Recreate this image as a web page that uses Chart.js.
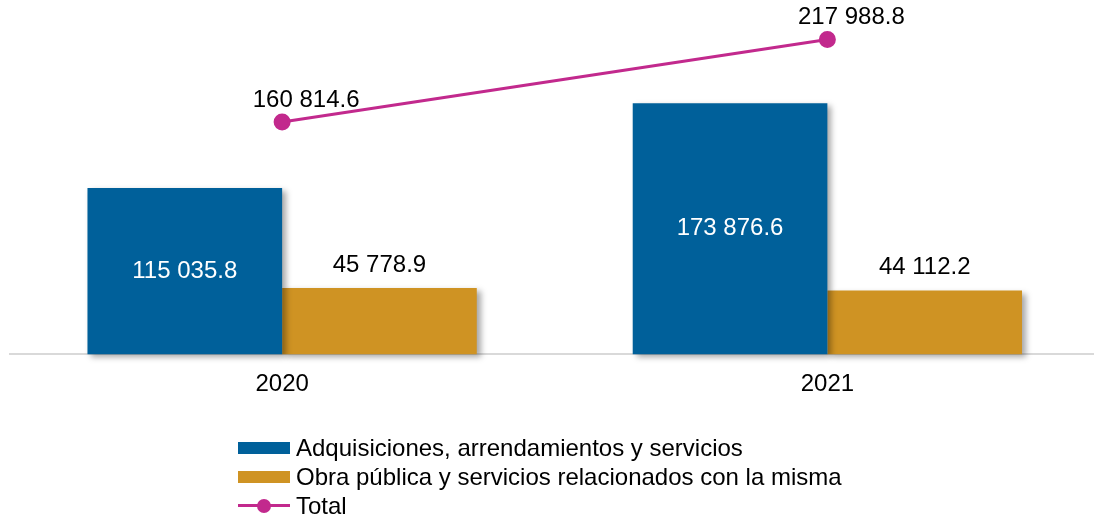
<!DOCTYPE html>
<html>
<head>
<meta charset="utf-8">
<script src="https://cdn.jsdelivr.net/npm/chart.js@4.4.0/dist/chart.umd.min.js"></script>
<style>
  body { margin: 0; background: #fff; font-family: "Liberation Sans", Arial, sans-serif; }
  #wrap { position: relative; width: 1094px; height: 519px; overflow: hidden; }
  #chart { position: absolute; left: 0; top: 0; }
  #legend { position: absolute; left: 238px; top: 433px; }
  .item { display: flex; align-items: center; height: 29px; font-size: 24px; color: #000; white-space: nowrap; }
  .sw { width: 52px; height: 12px; margin-right: 6px; flex: none; }
  .ln { position: relative; width: 52px; height: 14px; margin-right: 6px; flex: none; }
  .ln .bar { position: absolute; left: 0; right: 0; top: 5.5px; height: 3px; }
  .ln .dot { position: absolute; left: 19px; top: 0; width: 14px; height: 14px; border-radius: 50%; }
</style>
</head>
<body>
<div id="wrap">
  <canvas id="chart" width="1100" height="519"></canvas>
  <div id="legend"></div>
</div>
<script>
const years = ['2020', '2021'];
const adquisiciones = [115035.8, 173876.6];
const obraPublica = [45778.9, 44112.2];
const total = [160814.6, 217988.8];

const BLUE = '#00609A';
const ORANGE = '#CF9323';
const MAGENTA = '#C2298D';
const FONT = '"Liberation Sans", Arial, sans-serif';

// 115035.8 -> "115 035.8"
function fmt(v) {
  const parts = v.toFixed(1).split('.');
  return parts[0].replace(/\B(?=(\d{3})+(?!\d))/g, ' ') + '.' + parts[1];
}

// soft drop shadow behind the bars
const barShadow = {
  id: 'barShadow',
  beforeDatasetDraw(chart, args) {
    if (args.meta.type !== 'bar') return;
    const ctx = chart.ctx;
    ctx.save();
    ctx.shadowColor = 'rgba(0,0,0,0.35)';
    ctx.shadowBlur = 6;
    ctx.shadowOffsetX = 4;
    ctx.shadowOffsetY = 3;
  },
  afterDatasetDraw(chart, args) {
    if (args.meta.type !== 'bar') return;
    chart.ctx.restore();
  }
};

// value labels
const valueLabels = {
  id: 'valueLabels',
  afterDatasetsDraw(chart) {
    const ctx = chart.ctx;
    ctx.save();
    ctx.font = '24px ' + FONT;
    ctx.textAlign = 'center';
    ctx.textBaseline = 'middle';
    chart.data.datasets.forEach((ds, i) => {
      const meta = chart.getDatasetMeta(i);
      meta.data.forEach((el, j) => {
        const txt = fmt(ds.data[j]);
        if (ds.labelPos === 'center') {
          ctx.fillStyle = '#fff';
          ctx.fillText(txt, el.x, (el.y + el.base) / 2);
        } else if (ds.labelPos === 'top') {
          ctx.fillStyle = '#000';
          ctx.fillText(txt, el.x, el.y - 23);
        } else {
          ctx.fillStyle = '#000';
          ctx.fillText(txt, el.x + 24, el.y - 22);
        }
      });
    });
    ctx.restore();
  }
};

const chart = new Chart(document.getElementById('chart'), {
  type: 'bar',
  data: {
    labels: years,
    datasets: [
      {
        type: 'line',
        label: 'Total',
        data: total,
        borderColor: MAGENTA,
        backgroundColor: MAGENTA,
        borderWidth: 3,
        pointRadius: 7,
        pointHoverRadius: 7,
        labelPos: 'line',
        order: 0
      },
      {
        label: 'Adquisiciones, arrendamientos y servicios',
        data: adquisiciones,
        backgroundColor: BLUE,
        labelPos: 'center',
        clip: false,
        order: 1
      },
      {
        label: 'Obra pública y servicios relacionados con la misma',
        data: obraPublica,
        backgroundColor: ORANGE,
        labelPos: 'top',
        clip: false,
        order: 1
      }
    ]
  },
  options: {
    responsive: false,
    animation: false,
    layout: { autoPadding: false, padding: { left: 9.5, right: 0, top: 0, bottom: 112 } },
    datasets: {
      bar: { categoryPercentage: 0.714, barPercentage: 1 }
    },
    scales: {
      x: {
        grid: { display: false },
        border: { display: true, color: '#D9D9D9', width: 2 },
        ticks: { color: '#000', font: { family: FONT, size: 24 }, padding: 8 }
      },
      y: {
        display: false,
        min: 0,
        max: 245300
      }
    },
    plugins: {
      legend: { display: false },
      tooltip: { enabled: false }
    }
  },
  plugins: [barShadow, valueLabels]
});

// legend in the order of the reference: bars first, then the line
const legendEl = document.getElementById('legend');
[1, 2, 0].forEach(i => {
  const ds = chart.data.datasets[i];
  const row = document.createElement('div');
  row.className = 'item';
  let key;
  if (ds.type === 'line') {
    key = document.createElement('span');
    key.className = 'ln';
    key.innerHTML = '<span class="bar"></span><span class="dot"></span>';
    key.querySelector('.bar').style.background = ds.borderColor;
    key.querySelector('.dot').style.background = ds.borderColor;
  } else {
    key = document.createElement('span');
    key.className = 'sw';
    key.style.background = ds.backgroundColor;
  }
  const txt = document.createElement('span');
  txt.textContent = ds.label;
  row.appendChild(key);
  row.appendChild(txt);
  legendEl.appendChild(row);
});
</script>
</body>
</html>
